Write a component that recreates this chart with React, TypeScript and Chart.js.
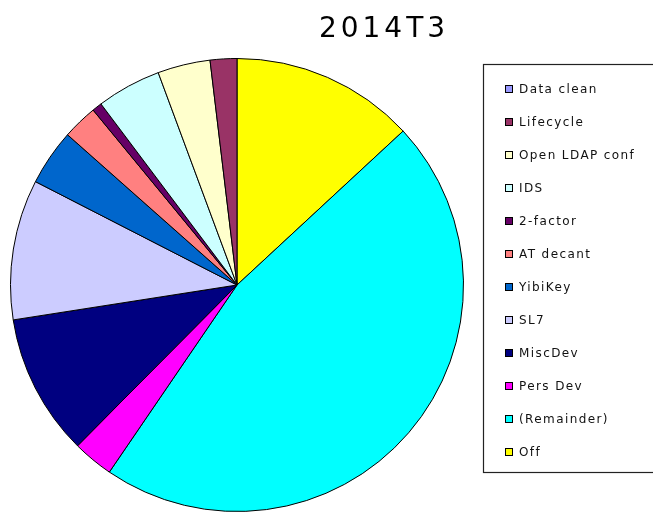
import React, { useEffect, useRef } from "react";
import { Chart, registerables } from "chart.js";

Chart.register(...registerables);

const titleText = "2014T3";
// clockwise from 12 o'clock
const categories = [
  "Off",
  "(Remainder)",
  "Pers Dev",
  "MiscDev",
  "SL7",
  "YibiKey",
  "AT decant",
  "2-factor",
  "IDS",
  "Open LDAP conf",
  "Lifecycle",
  "Data clean",
];
const values = [13.1, 46.4, 2.9, 10.1, 10.0, 4.0, 2.5, 0.7, 4.6, 3.75, 1.9, 0];
const colors = [
  "#FFFF00",
  "#00FFFF",
  "#FF00FF",
  "#000080",
  "#CCCCFF",
  "#0066CC",
  "#FF8080",
  "#660066",
  "#CCFFFF",
  "#FFFFCC",
  "#993366",
  "#9999FF",
];

const W = 653;
const H = 560;

const decorPlugin = {
  id: "decor",
  afterDraw(chart: any) {
    const ctx = chart.ctx as CanvasRenderingContext2D;
    ctx.save();
    // title
    ctx.fillStyle = "#000";
    ctx.font = "28px 'DejaVu Sans', Verdana, sans-serif";
    (ctx as any).letterSpacing = "4px";
    ctx.textAlign = "center";
    ctx.textBaseline = "alphabetic";
    ctx.fillText(titleText, 384, 37);

    // legend box
    (ctx as any).letterSpacing = "1.4px";
    ctx.strokeStyle = "#222";
    ctx.lineWidth = 1.2;
    ctx.strokeRect(483.5, 64.5, 220, 408);

    const labels: string[] = chart.data.labels.slice().reverse();
    const cols: string[] = (chart.data.datasets[0].backgroundColor as string[]).slice().reverse();
    ctx.font = "12px 'DejaVu Sans', Verdana, sans-serif";
    ctx.textAlign = "left";
    ctx.textBaseline = "middle";
    labels.forEach((lab, i) => {
      const cy = 89 + 33 * i;
      ctx.fillStyle = cols[i];
      ctx.fillRect(505, cy - 4, 8, 8);
      ctx.strokeStyle = "#000";
      ctx.lineWidth = 1;
      ctx.strokeRect(505.5, cy - 3.5, 7, 7);
      ctx.fillStyle = "#111";
      ctx.fillText(lab, 519, cy + 1);
    });
    ctx.restore();
  },
};

export default function App() {
  const ref = useRef<HTMLCanvasElement | null>(null);
  useEffect(() => {
    if (!ref.current) return;
    const chart = new Chart(ref.current, {
      type: "pie",
      data: {
        labels: categories,
        datasets: [
          {
            data: values,
            backgroundColor: colors,
            borderColor: "#000",
            borderWidth: 1,
          },
        ],
      },
      options: {
        responsive: false,
        animation: false,
        devicePixelRatio: 1,
        layout: { padding: { left: 10, top: 58, right: W - 464, bottom: H - 512 } },
        plugins: {
          legend: { display: false },
          title: { display: false },
          tooltip: { enabled: false },
        },
      },
      plugins: [decorPlugin],
    });
    return () => chart.destroy();
  }, []);
  return (
    <div
      style={{
        position: "fixed",
        left: 0,
        top: 0,
        width: 653,
        height: 513,
        overflow: "hidden",
        background: "#fff",
      }}
    >
      <canvas ref={ref} width={W} height={H} style={{ display: "block" }} />
    </div>
  );
}
